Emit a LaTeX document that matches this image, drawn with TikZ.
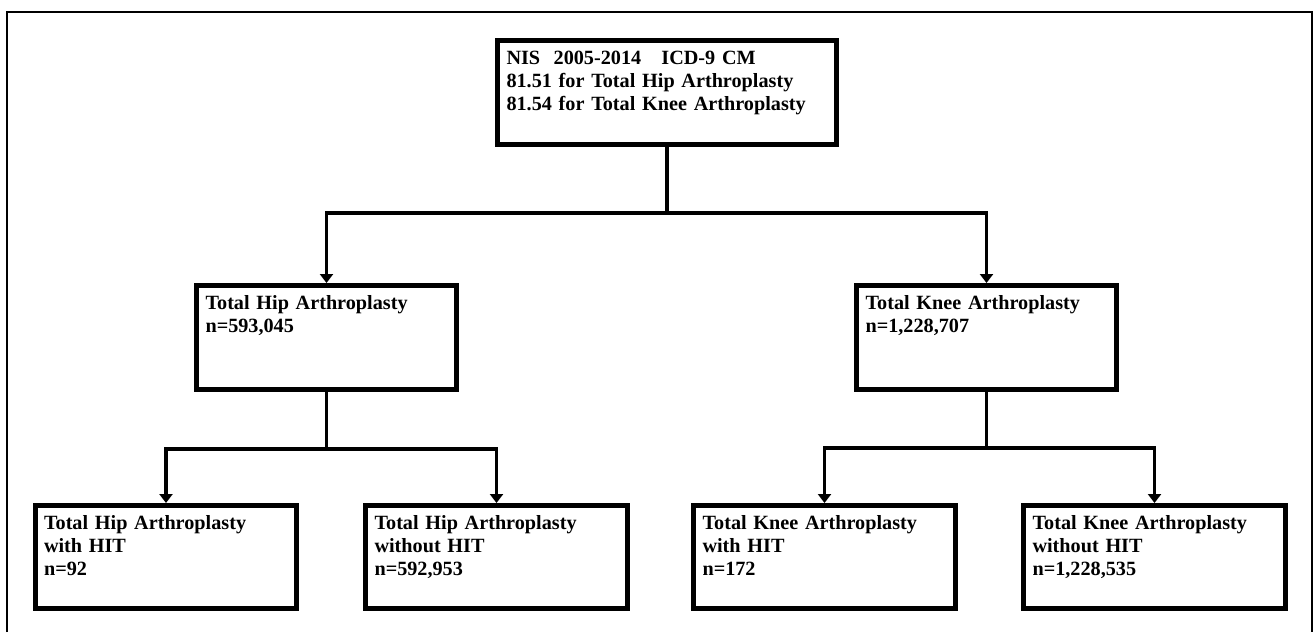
\documentclass[tikz,border=0pt]{standalone}
\usepackage{fontspec}
\setmainfont{Liberation Serif}
\usetikzlibrary{arrows.meta}

\begin{document}
\begin{tikzpicture}[x=0.02cm, y=-0.02cm,
  every node/.style={font=\fontsize{11.5}{13}\selectfont\bfseries},
  flowbox/.style={draw, rectangle, line width=0.1cm, inner xsep=0.18cm, inner ysep=0pt, align=left, text height=0.48cm},
  topbox/.style={flowbox, text width=6.42cm, text depth=1.60cm},
  midbox/.style={flowbox, text width=4.84cm, text depth=1.60cm},
  leafbox/.style={flowbox, text width=4.88cm, text depth=1.58cm},
  link/.style={line width=0.07cm, -{Triangle[length=0.18cm, width=0.26cm]}}]
  \useasboundingbox (0,0) rectangle (1314,632);
  \draw[line width=0.04cm] (7,632) -- (7,12) -- (1312,12) -- (1312,632);
  \node[topbox] (nis) at (667,92.5) {NIS\ \ 2005-2014\ \ \ ICD-9 CM\\81.51 for Total Hip Arthroplasty\\81.54 for Total Knee Arthroplasty};
  \node[midbox] (tha) at (326.5,337.5) {Total Hip Arthroplasty\\n=593,045};
  \node[midbox] (tka) at (986.5,337.5) {Total Knee Arthroplasty\\n=1,228,707};
  \node[leafbox] (thaHit) at (166,557) {Total Hip Arthroplasty\\with HIT\\n=92};
  \node[leafbox] (thaNoHit) at (496.5,557) {Total Hip Arthroplasty\\without HIT\\n=592,953};
  \node[leafbox] (tkaHit) at (824.5,557) {Total Knee Arthroplasty\\with HIT\\n=172};
  \node[leafbox] (tkaNoHit) at (1154.5,557) {Total Knee Arthroplasty\\without HIT\\n=1,228,535};
  \draw[link] (nis.south) -- ++(0,66) -| (tha.north);
  \draw[link] (nis.south) -- ++(0,66) -| (tka.north);
  \draw[link] (tha.south) -- ++(0,57) -| (thaHit.north);
  \draw[link] (tha.south) -- ++(0,57) -| (thaNoHit.north);
  \draw[link] (tka.south) -- ++(0,56) -| (tkaHit.north);
  \draw[link] (tka.south) -- ++(0,56) -| (tkaNoHit.north);
\end{tikzpicture}
\end{document}
